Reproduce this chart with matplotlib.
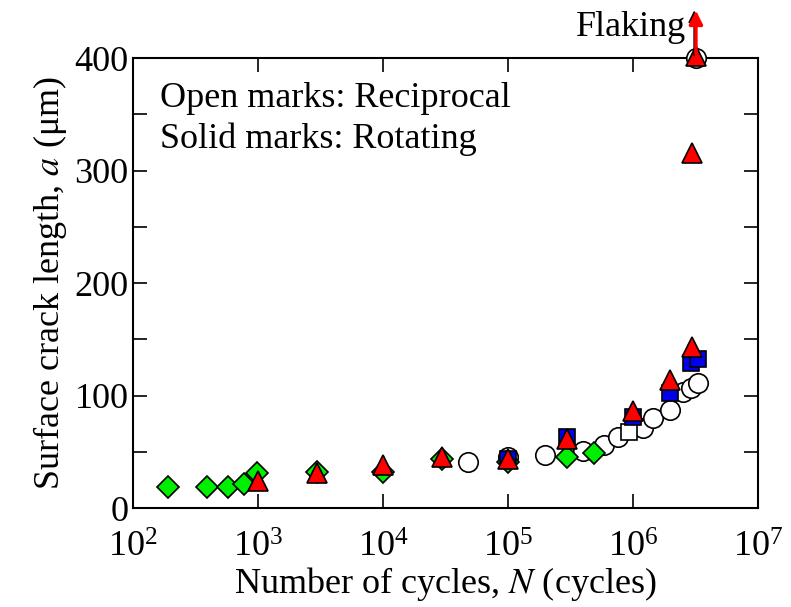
import matplotlib
matplotlib.use("Agg")
import matplotlib.pyplot as plt
from matplotlib.ticker import MultipleLocator, LogLocator, NullLocator, LogFormatterMathtext

plt.rcParams['font.family'] = ['Liberation Serif', 'DejaVu Serif']
plt.rcParams['mathtext.fontset'] = 'stix'

# open circles (reciprocal)
circ_n = [4.8e4, 1.0e5, 2.0e5, 4.0e5, 5.9e5, 7.6e5, 1.2e6, 1.45e6, 2.0e6, 2.5e6, 2.9e6, 3.3e6, 3.2e6]
circ_a = [41, 45, 47, 51, 56, 63, 71, 80, 87, 103, 107, 111, 400]

# open squares (reciprocal)
osq_n = [9.4e5]
osq_a = [68]

# green diamonds (rotating)
dia_n = [190, 390, 575, 770, 980, 3000, 1.0e4, 3.0e4, 1.0e5, 3.0e5, 4.9e5]
dia_a = [19, 19, 19, 21, 31, 32, 32, 44, 41, 45, 49]

# blue squares (rotating)
bsq_n = [1.0e5, 3.0e5, 1.0e6, 2.0e6, 2.9e6, 3.3e6]
bsq_a = [44, 63, 81, 102, 129, 133]

# red triangles (rotating)
tri_n = [1.0e3, 3.0e3, 1.0e4, 3.0e4, 1.0e5, 3.0e5, 1.0e6, 2.0e6, 3.0e6, 3.0e6, 3.2e6]
tri_a = [24, 31, 38, 45, 44, 61, 86, 114, 143, 316, 402]

fig = plt.figure(figsize=(7.91, 6.07), dpi=100)
ax = fig.add_axes([0.168, 0.163, 0.790, 0.741])

ew = 1.2
ax.plot(circ_n, circ_a, 'o', ms=14, mfc='white', mec='black', mew=ew, ls='none', zorder=3, clip_on=False)
ax.plot(osq_n, osq_a, 's', ms=12, mfc='white', mec='black', mew=ew, ls='none', zorder=4)
ax.plot(dia_n, dia_a, 'D', ms=11, mfc='#00ee00', mec='black', mew=ew, ls='none', zorder=5)
ax.plot(bsq_n, bsq_a, 's', ms=12, mfc='#0000ee', mec='black', mew=ew, ls='none', zorder=6)
ax.plot(tri_n, tri_a, '^', ms=15, mfc='#ff0000', mec='black', mew=ew, ls='none', zorder=7, clip_on=False)

# flaking arrow
ax.annotate('', xy=(3.1e6, 445), xytext=(3.1e6, 400), annotation_clip=False,
            arrowprops=dict(arrowstyle='-|>', color='black', lw=1.2, mutation_scale=18), zorder=8)
ax.annotate('', xy=(3.2e6, 445), xytext=(3.2e6, 402), annotation_clip=False,
            arrowprops=dict(arrowstyle='-|>', color='red', lw=2.5, mutation_scale=20), zorder=9)
ax.text(2.7e6, 427, 'Flaking', fontsize=26, ha='right', va='center')

ax.text(165, 364, 'Open marks: Reciprocal', fontsize=26, ha='left', va='center')
ax.text(165, 328, 'Solid marks: Rotating', fontsize=26, ha='left', va='center')

ax.set_xscale('log')
ax.set_xlim(1e2, 1e7)
ax.set_ylim(0, 400)
ax.xaxis.set_major_locator(LogLocator(base=10, numticks=10))
ax.xaxis.set_major_formatter(LogFormatterMathtext())
ax.xaxis.set_minor_locator(NullLocator())
ax.yaxis.set_major_locator(MultipleLocator(100))
ax.yaxis.set_minor_locator(MultipleLocator(50))

ax.tick_params(which='both', direction='in', top=True, right=True, length=10, width=1.2, labelsize=26)
ax.tick_params(axis='x', pad=17)
ax.tick_params(axis='y', pad=3)
for s in ax.spines.values():
    s.set_linewidth(1.5)

ax.set_xlabel('Number of cycles, $N$ (cycles)', fontsize=26, labelpad=0)
ax.set_ylabel('Surface crack length, $a$ (μm)', fontsize=26, labelpad=4)

fig.savefig('out.png', dpi=100)
